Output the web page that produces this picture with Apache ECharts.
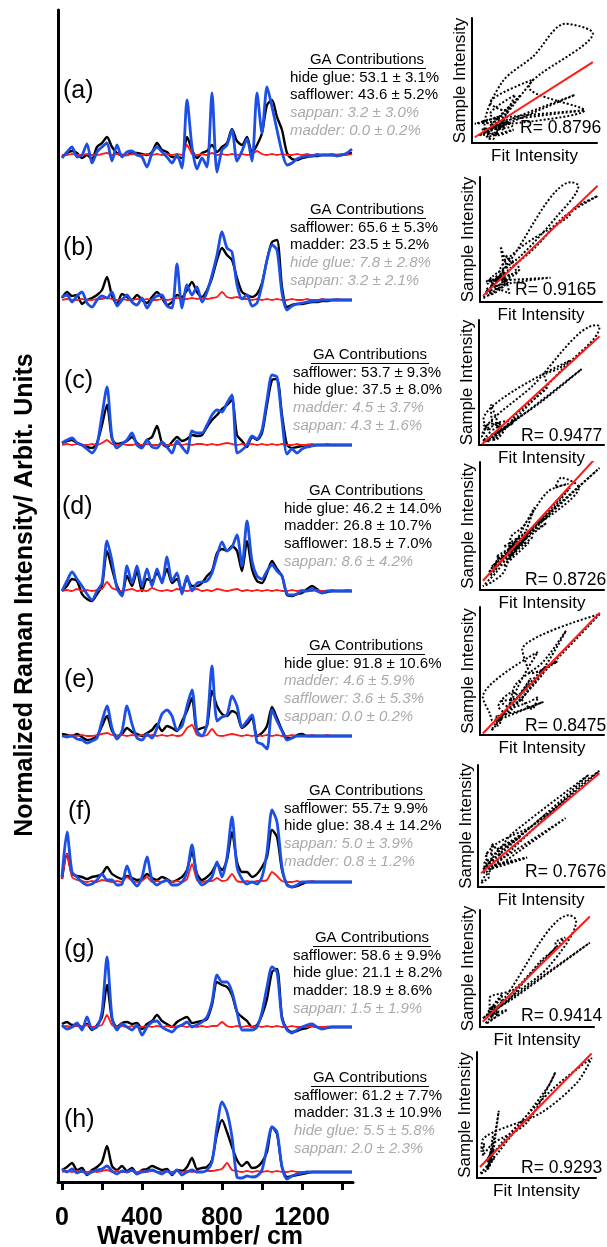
<!DOCTYPE html>
<html><head><meta charset="utf-8">
<script src="https://cdn.jsdelivr.net/npm/echarts@6/dist/echarts.min.js"></script>
<style>html,body{margin:0;padding:0;background:#fff}#c{width:607px;height:1247px}</style>
</head><body><div id="c"></div><script>
// ---------------- DATA ----------------
const wavenumber = [0,25,50,75,100,125,150,175,200,225,250,275,300,325,350,375,400,425,450,475,500,525,550,575,600,625,650,675,700,725,750,775,800,825,850,875,900,925,950,975,1000,1025,1050,1075,1100,1125,1150,1175,1200,1225,1250,1275,1300,1325,1350,1375,1400,1425,1450];
const xTickValues = [0,200,400,600,800,1000,1200,1400];
const xTickLabels = [0,400,800,1200];
const panelLabels = ['(a)','(b)','(c)','(d)','(e)','(f)','(g)','(h)'];
const rLabels = ['R= 0.8796','R= 0.9165','R= 0.9477','R= 0.8726','R= 0.8475','R= 0.7676','R= 0.9414','R= 0.9293'];

// sample (black), GA fit (blue), residual/other (red)
const blackA = [-2,2,4,2,-3,0,-4,8,12,18, 8,2,0,0,2,2,1,0,3,12, 5,3,-2,-2,-3,18,5,-3,2,4, 10,3,8,12,26,14,10,18,2,10, 22,50,55,38,25,2,-4,-5,-3,-2, -1,-1,0,0,0,0,0,1,2];
const blueA  = [-3,3,8,-2,0,11,-8,3,8,12, -6,10,-2,3,4,0,-2,-12,2,8, 3,-2,-8,0,-13,55,8,-14,-3,-12, 62,-17,5,10,25,-6,4,16,-6,62, 22,68,48,25,3,-10,-8,-4,-2,-1, -1,0,0,0,0,-1,0,2,6];
const redA   = [0,0,1,0,0,1,0,0,1,2, 0,1,0,0,1,0,0,1,0,1, 0,1,0,1,0,10,1,0,1,0, 2,0,1,0,1,0,1,0,1,4, 1,0,1,0,1,0,0,1,0,1, 0,1,0,0,1,0,1,0,1];

const blackB = [2,8,4,5,-4,0,2,5,10,23, 4,-4,6,3,0,5,0,-3,3,8, 2,-5,-2,5,3,10,18,8,3,10, 22,40,52,45,40,22,8,5,3,6, 17,40,58,60,13,-7,-5,-4,-4,-3, -2,-2,-1,-1,0,0,0,0,0];
const blueB  = [3,5,-2,4,8,-3,-7,0,4,2, 8,-6,0,5,-2,-5,2,-8,0,4, 5,-6,-8,36,-8,15,5,13,-2,8, 25,45,68,52,48,15,1,5,-6,-3, 15,40,55,50,7,-10,-6,-4,-3,-2, -1,-1,0,0,0,0,0,0,0];
const redB   = [0,1,0,0,1,0,0,1,1,2, 1,0,1,0,0,1,0,1,0,0, 1,0,1,2,1,1,2,1,2,1, 2,3,8,3,2,3,1,1,0,1, 0,1,0,1,0,0,1,0,0,1, 0,0,1,0,0,1,0,0,0];

const blackC = [2,4,5,2,0,-2,-3,2,20,40, 6,1,2,4,8,2,-1,5,8,19, 2,-2,3,8,4,6,10,9,10,18, 25,30,36,40,45,10,4,-2,8,5, 12,40,65,66,30,0,-3,-2,-1,0, 0,0,0,0,0,0,0,0,0];
const blueC  = [2,5,7,2,0,-4,-8,0,30,58, 8,-3,1,5,12,0,-3,5,-2,-3, 3,-2,-8,4,-2,-8,14,12,12,20, 30,35,33,42,50,-8,-5,0,9,6, 15,45,70,68,25,-9,-4,-8,-4,-2, -1,0,0,0,0,0,0,0,0];
const redC   = [0,1,0,1,0,0,1,0,2,5, 1,0,1,0,0,1,0,1,0,0, 1,0,0,1,0,1,0,1,1,0, 1,0,1,2,1,0,1,0,1,0, 1,0,1,0,1,0,0,1,0,0, 1,0,0,1,0,0,0,0,0];

const blackD = [0,5,12,10,-3,-8,-10,-3,5,40, 22,5,-3,15,5,20,0,12,10,18, 10,22,8,12,0,12,5,5,8,15, 20,38,42,40,45,40,20,50,22,10, 8,18,30,22,15,-4,-5,-3,-2,2, 5,2,-2,-1,0,0,0,0,0];
const blueD  = [0,10,19,12,5,-3,-9,0,8,50, 30,3,-5,25,8,25,5,22,5,22, 8,34,10,18,-3,15,0,8,9,10, 18,35,49,40,44,56,25,70,30,15, 12,20,26,20,15,-3,-4,-3,0,0, 2,0,-2,0,0,0,0,0,0];
const redD   = [0,1,0,2,0,1,0,1,2,9, 3,1,0,1,2,0,1,0,3,1, 0,1,0,2,1,0,1,2,0,1, 0,2,1,0,1,2,0,1,0,1, 0,1,0,1,0,0,1,0,1,0, 0,1,0,0,1,0,0,1,0];

const blackE = [2,1,0,2,-1,-4,-3,0,10,20, 5,0,2,8,4,2,0,3,6,12, 5,10,8,5,15,25,38,6,8,10, 45,30,22,20,25,22,8,12,18,0, 3,10,29,18,6,-2,-2,1,2,0, 0,0,0,0,0,0,0,0,0];
const blueE  = [0,-1,0,-3,-4,-7,-5,-2,15,30, 8,-3,5,30,12,-2,-4,2,-2,8, 22,26,20,6,10,30,46,5,0,12, 70,15,19,21,40,30,9,15,21,-6, -8,-13,26,15,5,-4,-2,0,0,0, 0,0,0,0,0,0,0,0,0];
const redE   = [0,0,1,0,1,0,0,1,2,3, 1,0,1,0,1,0,1,0,1,0, 1,0,1,0,1,8,11,1,0,1, 7,1,0,1,2,1,0,1,0,1, 0,1,0,1,0,0,1,0,0,0, 1,0,0,1,0,0,0,0,0];

const blackF = [3,28,8,6,5,3,5,6,8,15, 8,5,3,6,4,2,3,8,4,2, 5,3,0,2,5,12,30,8,2,5, 10,18,12,22,50,20,10,10,5,8, 15,25,52,45,12,-2,-5,-4,-2,0, 0,0,0,0,0,0,0,0,0];
const blueF  = [5,50,10,5,0,-3,-2,2,8,2, 2,-3,-2,16,2,-4,5,25,2,-3, 0,2,-3,-3,0,10,37,5,-3,0, 5,20,5,25,65,15,3,-2,0,-2, 5,30,72,60,15,-3,-5,-3,0,0, 0,0,0,0,0,0,0,0,0];
const redF   = [3,28,5,2,1,0,1,0,2,1, 0,1,0,5,1,0,1,5,0,1, 0,1,0,1,0,3,18,2,0,1, 1,4,1,2,8,1,0,1,0,1, 1,2,10,6,1,0,0,1,0,0, 1,0,0,0,0,0,0,0,0];

const blackG = [3,5,2,2,0,3,-3,2,10,42, 8,0,4,5,3,4,-2,3,6,12, 6,3,0,5,8,10,4,5,6,8, 22,45,42,40,32,15,10,6,0,2, 12,28,55,58,10,-2,-5,-4,-2,-1, 1,0,-1,0,0,0,0,0,0];
const blueG  = [2,-2,0,4,-3,10,-2,0,15,70, 10,-3,3,0,-3,2,-8,0,5,6, 0,-3,-5,0,2,5,0,2,5,10, 25,52,45,45,35,15,-3,-3,-3,0, 15,40,60,55,8,-3,-6,-3,0,2, 3,0,-2,-1,0,0,0,0,0];
const redG   = [0,1,0,1,0,2,0,1,2,12, 2,0,1,0,1,0,0,1,0,1, 0,1,0,0,1,0,1,0,1,0, 1,1,5,1,0,1,0,1,0,1, 0,1,0,1,0,0,1,0,0,0, 1,0,0,0,0,0,0,0,0];

const blackH = [2,5,9,2,4,-3,2,5,10,26, 6,2,6,1,4,-2,2,3,6,4, 2,3,-3,2,1,5,14,3,4,5, 12,38,52,40,25,12,6,10,4,5, 10,20,45,38,5,-5,-4,-3,-2,-1, 0,0,0,0,0,0,0,0,0];
const blueH  = [3,0,3,-1,1,-2,0,2,3,6, 1,-2,1,0,2,-2,0,1,2,0, -2,1,-2,2,-3,0,2,0,0,2, 10,45,70,60,35,-5,-6,-4,-5,-4, 2,25,45,40,5,-7,-4,-2,-1,0, 0,0,0,0,0,0,0,0,0];
const redH   = [0,1,0,1,0,0,1,0,1,2, 0,1,0,0,1,0,1,0,1,0, 0,1,0,1,0,1,0,1,0,1, 1,2,3,9,2,1,0,1,0,1, 0,1,0,1,0,0,1,0,0,0, 0,0,0,0,0,0,0,0,0];

// GA contributions: major (black) and minor (grey italic)
const majorA = ['hide glue: 53.1 ± 3.1%','safflower: 43.6 ± 5.2%'];
const minorA = ['sappan: 3.2 ± 3.0%','madder: 0.0 ± 0.2%'];
const majorB = ['safflower: 65.6 ± 5.3%','madder: 23.5 ± 5.2%'];
const minorB = ['hide glue: 7.8 ± 2.8%','sappan: 3.2 ± 2.1%'];
const majorC = ['safflower: 53.7 ± 9.3%','hide glue: 37.5 ± 8.0%'];
const minorC = ['madder: 4.5 ± 3.7%','sappan: 4.3 ± 1.6%'];
const majorD = ['hide glue: 46.2 ± 14.0%','madder: 26.8 ± 10.7%','safflower: 18.5 ± 7.0%'];
const minorD = ['sappan: 8.6 ± 4.2%'];
const majorE = ['hide glue: 91.8 ± 10.6%'];
const minorE = ['madder: 4.6 ± 5.9%','safflower: 3.6 ± 5.3%','sappan: 0.0 ± 0.2%'];
const majorF = ['safflower: 55.7± 9.9%','hide glue: 38.4 ± 14.2%'];
const minorF = ['sappan: 5.0 ± 3.9%','madder: 0.8 ± 1.2%'];
const majorG = ['safflower: 58.6 ± 9.9%','hide glue: 21.1 ± 8.2%','madder: 18.9 ± 8.6%'];
const minorG = ['sappan: 1.5 ± 1.9%'];
const majorH = ['safflower: 61.2 ± 7.7%','madder: 31.3 ± 10.9%'];
const minorH = ['hide glue: 5.5 ± 5.8%','sappan: 2.0 ± 2.3%'];

// ---------------- LAYOUT ----------------
const FONT = '"Liberation Sans", Arial, sans-serif';
const panels = [
  {black:blackA, blue:blueA, red:redA, major:majorA, minor:minorA},
  {black:blackB, blue:blueB, red:redB, major:majorB, minor:minorB},
  {black:blackC, blue:blueC, red:redC, major:majorC, minor:minorC},
  {black:blackD, blue:blueD, red:redD, major:majorD, minor:minorD},
  {black:blackE, blue:blueE, red:redE, major:majorE, minor:minorE},
  {black:blackF, blue:blueF, red:redF, major:majorF, minor:minorF},
  {black:blackG, blue:blueG, red:redG, major:majorG, minor:minorG},
  {black:blackH, blue:blueH, red:redH, major:majorH, minor:minorH}
];
const baseY   = [155,300,445,591,736,882,1027,1172];
const labelPos = [[63,91],[63,248],[64,381],[62,507],[64,680],[68,812],[64,950],[64,1120]];
const textPos  = [[367,60,290],[367,210,290],[370,355,293],[366,491,284],[366,646,284],[366,791,284],[372,938,293],[370,1078,294]];
const scatterBox = [[472,18,597,143],[480,177,602,302],[479,320,604,445],[480,462,604,590],[480,607,604,735],[478,765,604,887],[480,910,594,1027],[477,1052,596,1178]];
const rPos = [[520,128],[515,290],[521,436],[525,580],[525,726],[525,872],[521,1016],[521,1168]];

const grids=[], xAxes=[], yAxes=[], series=[], graphics=[];

// frame axes
grids.push({left:58, top:10, width:295, height:1172});
xAxes.push({type:'value', gridIndex:0, min:-20, max:1455,
  axisLine:{show:true, onZero:false, lineStyle:{color:'#000', width:3}},
  axisTick:{show:true, customValues:xTickValues, length:8, inside:false, lineStyle:{color:'#000', width:3}},
  axisLabel:{show:true, customValues:xTickLabels, formatter:(v)=>String(v), fontSize:25, fontWeight:'bold', color:'#000', fontFamily:FONT, margin:24},
  splitLine:{show:false}});
yAxes.push({type:'value', gridIndex:0, min:0, max:1,
  axisLine:{show:true, onZero:false, lineStyle:{color:'#000', width:3}},
  axisTick:{show:false}, axisLabel:{show:false}, splitLine:{show:false}});

panels.forEach((p, i) => {
  const g = grids.length;
  grids.push({left:58, top:baseY[i]-90, width:295, height:110});
  xAxes.push({type:'value', gridIndex:g, min:-20, max:1455, show:false});
  yAxes.push({type:'value', gridIndex:g, min:-20, max:90, show:false});
  const mk = (arr) => wavenumber.map((w, k) => [w, arr[k]]);
  series.push({type:'line', xAxisIndex:g, yAxisIndex:g, data:mk(p.black), showSymbol:false, smooth:0.25,
    lineStyle:{color:'#000', width:2.4}, silent:true, z:2});
  series.push({type:'line', xAxisIndex:g, yAxisIndex:g, data:mk(p.red), showSymbol:false, smooth:0.2,
    lineStyle:{color:'#ff1a1a', width:1.8}, silent:true, z:3});
  series.push({type:'line', xAxisIndex:g, yAxisIndex:g, data:mk(p.blue), showSymbol:false, smooth:0.25,
    lineStyle:{color:'#1c4fe6', width:2.8}, silent:true, z:4});
});

// scatter plots: sample intensity vs fit intensity
panels.forEach((p, i) => {
  const g = grids.length;
  const [l,t,r,b] = scatterBox[i];
  grids.push({left:l, top:t, width:r-l, height:b-t});
  const xs = p.blue, ys = p.black;
  const xmin = Math.min(...xs), xmax = Math.max(...xs);
  const ymin = Math.min(...ys), ymax = Math.max(...ys);
  xAxes.push({type:'value', gridIndex:g, min:xmin-2, max:xmax+3,
    axisLine:{show:true, onZero:false, lineStyle:{color:'#000', width:2}}, axisTick:{show:false}, axisLabel:{show:false}, splitLine:{show:false}});
  yAxes.push({type:'value', gridIndex:g, min:ymin-2, max:ymax+3,
    axisLine:{show:true, onZero:false, lineStyle:{color:'#000', width:2}}, axisTick:{show:false}, axisLabel:{show:false}, splitLine:{show:false}});
  series.push({type:'line', xAxisIndex:g, yAxisIndex:g, data:xs.map((x,k)=>[x, ys[k]]), showSymbol:false, smooth:0.3,
    lineStyle:{color:'#000', width:2, type:'dotted'}, silent:true, z:2});
  // least squares regression line
  const n = xs.length;
  const mx = xs.reduce((a,v)=>a+v,0)/n, my = ys.reduce((a,v)=>a+v,0)/n;
  let sxy=0, sxx=0;
  for (let k=0;k<n;k++){ sxy += (xs[k]-mx)*(ys[k]-my); sxx += (xs[k]-mx)*(xs[k]-mx); }
  const slope = sxy/sxx, icpt = my - slope*mx;
  series.push({type:'line', xAxisIndex:g, yAxisIndex:g, data:[[xmin, icpt+slope*xmin],[xmax, icpt+slope*xmax]], showSymbol:false,
    lineStyle:{color:'#ff1a1a', width:2}, silent:true, z:3});
  graphics.push({type:'text', x:l-12, y:(t+b)/2, rotation:Math.PI/2,
    style:{text:'Sample Intensity', fill:'#000', fontSize:17, fontFamily:FONT, align:'center', verticalAlign:'middle'}});
  graphics.push({type:'text', x:(l+r)/2, y:b+13,
    style:{text:'Fit Intensity', fill:'#000', fontSize:17, fontFamily:FONT, align:'center', verticalAlign:'middle'}});
  graphics.push({type:'text', x:rPos[i][0], y:rPos[i][1],
    style:{text:rLabels[i], fill:'#000', fontSize:17.5, fontFamily:FONT, align:'left', verticalAlign:'middle'}});
});

// panel labels and GA contributions text
panels.forEach((p, i) => {
  graphics.push({type:'text', x:labelPos[i][0], y:labelPos[i][1],
    style:{text:panelLabels[i], fill:'#000', fontSize:25, fontFamily:FONT, align:'left', verticalAlign:'middle'}});
  const [cx, ty, lx] = textPos[i];
  graphics.push({type:'text', x:cx, y:ty,
    style:{text:'GA Contributions', fill:'#000', fontSize:15, fontFamily:FONT, align:'center', verticalAlign:'middle'}});
  graphics.push({type:'line', shape:{x1:cx-59, y1:ty+8.5, x2:cx+59, y2:ty+8.5}, style:{stroke:'#000', lineWidth:1}});
  const lines = p.major.map(s=>[s,true]).concat(p.minor.map(s=>[s,false]));
  lines.forEach(([s, major], k) => {
    graphics.push({type:'text', x:lx, y:ty + 17.6*(k+1),
      style:{text:s, fill: major ? '#000' : '#aaaaaa', fontSize:15, fontStyle: major ? 'normal' : 'italic',
        fontFamily:FONT, align:'left', verticalAlign:'middle'}});
  });
});

// main axis titles
graphics.push({type:'text', x:25, y:595, rotation:Math.PI/2,
  style:{text:'Normalized Raman Intensity/ Arbit. Units', fill:'#000', fontSize:25, fontWeight:'bold', fontFamily:FONT, align:'center', verticalAlign:'middle'}});
graphics.push({type:'text', x:200, y:1237,
  style:{text:'Wavenumber/ cm', fill:'#000', fontSize:25, fontWeight:'bold', fontFamily:FONT, align:'center', verticalAlign:'middle'}});

const chart = echarts.init(document.getElementById('c'), null, {renderer:'canvas', width:607, height:1247});
chart.setOption({
  animation:false, backgroundColor:'#fff',
  grid:grids, xAxis:xAxes, yAxis:yAxes, series:series, graphic:graphics
});
</script></body></html>
